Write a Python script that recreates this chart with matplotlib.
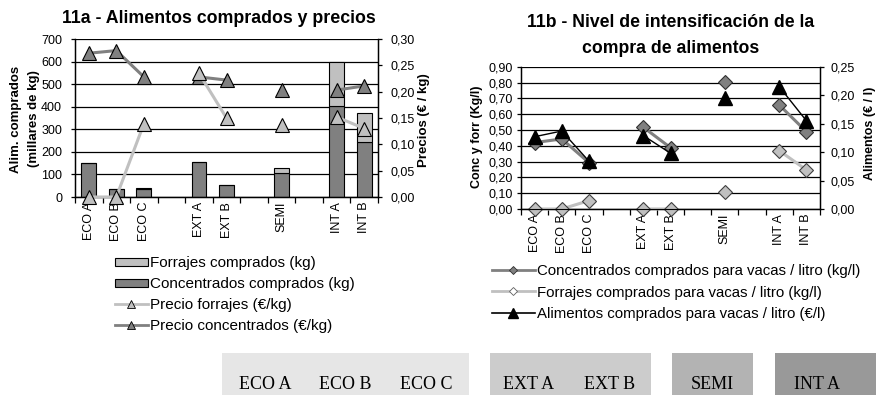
import numpy as np
import matplotlib
matplotlib.use("Agg")
import matplotlib.pyplot as plt
from matplotlib.lines import Line2D
from matplotlib.patches import Patch, Rectangle
from matplotlib.ticker import FuncFormatter, MultipleLocator

nan = np.nan

# Farm types (blank slots separate the groups)
categories = ["ECO A", "ECO B", "ECO C", "", "EXT A", "EXT B", "", "SEMI", "", "INT A", "INT B"]

# 11a - purchased feed (thousand kg) and prices (EUR/kg)
concentrados_kg = [150, 35, 36, nan, 155, 52, nan, 105, nan, 402, 242]
forrajes_kg = [0, 0, 6, nan, 0, 0, nan, 22, nan, 198, 128]
precio_forrajes = [0.000, 0.000, 0.139, nan, 0.235, 0.150, nan, 0.137, nan, 0.152, 0.130]
precio_concentrados = [0.273, 0.278, 0.228, nan, 0.228, 0.222, nan, 0.204, nan, 0.203, 0.211]

# 11b - purchased feed per litre of milk
conc_litro = [0.420, 0.443, 0.293, nan, 0.517, 0.388, nan, 0.806, nan, 0.658, 0.489]
forr_litro = [0.000, 0.000, 0.053, nan, 0.000, 0.000, nan, 0.105, nan, 0.369, 0.247]
alim_litro = [0.127, 0.137, 0.084, nan, 0.129, 0.098, nan, 0.195, nan, 0.215, 0.155]

# Group boxes along the bottom edge
group_boxes = [
    (["ECO A", "ECO B", "ECO C"], "#e6e6e6"),
    (["EXT A", "EXT B"], "#cccccc"),
    (["SEMI"], "#b3b3b3"),
    (["INT A"], "#999999"),
]

plt.rcParams["font.family"] = ["Liberation Sans", "DejaVu Sans"]

W, H = 876, 395
fig = plt.figure(figsize=(W / 100, H / 100), dpi=100)


def fx(px):
    return px / W


def fy(py):
    return 1 - py / H


DARK = "#808080"
LIGHT = "#c0c0c0"
TICK_FS = 9
comma2 = FuncFormatter(lambda v, p: f"{v:.2f}".replace(".", ","))

x = np.arange(len(categories))


def style_category_axis(ax, ypad):
    ax.set_xlim(-0.5, len(categories) - 0.5)
    ax.set_xticks(np.arange(-0.5, len(categories), 1.0))
    ax.set_xticklabels([])
    ax.set_xticks(x, minor=True)
    ax.set_xticklabels(categories, minor=True, rotation=90, fontsize=TICK_FS)
    ax.tick_params(axis="x", which="major", length=4, width=0.9, direction="out")
    ax.tick_params(axis="x", which="minor", length=0, pad=3.5)
    ax.spines["top"].set_visible(False)
    for s in ("left", "right", "bottom"):
        ax.spines[s].set_linewidth(1.0)
    ax.yaxis.grid(True, color="black", linewidth=0.9)
    ax.set_axisbelow(True)
    ax.tick_params(axis="y", labelsize=TICK_FS, length=3, width=0.9, pad=ypad)


def style_right_axis(ax, ypad):
    ax.tick_params(axis="y", labelsize=TICK_FS, length=3, width=0.9, pad=ypad)
    ax.spines["top"].set_visible(False)


def place_ylabel(axis, text, xpos, ypos, size=9):
    axis.set_label_text(text, fontsize=size, fontweight="bold", linespacing=1.6)
    axis.label.set_verticalalignment("center")
    axis.set_label_coords(xpos, ypos)


# ---------------- 11a ----------------
ax1 = fig.add_axes([fx(75), fy(197), fx(378) - fx(75), fy(39) - fy(197)])
style_category_axis(ax1, ypad=6.3)
ax1.set_ylim(0, 700)
ax1.yaxis.set_major_locator(MultipleLocator(100))

conc_arr = np.array(concentrados_kg, dtype=float)
forr_arr = np.array(forrajes_kg, dtype=float)
ok = np.isfinite(conc_arr)
bw = 0.54
ax1.bar(x[ok], conc_arr[ok], width=bw, color=DARK, edgecolor="black", linewidth=0.8, zorder=2)
ax1.bar(x[ok], forr_arr[ok], bottom=conc_arr[ok], width=bw, color=LIGHT,
        edgecolor="black", linewidth=0.8, zorder=2)
place_ylabel(ax1.yaxis, "Alim. comprados\n(millares de kg)", -0.165, 0.494, size=9.5)

ax1r = ax1.twinx()
ax1r.set_ylim(0, 0.30)
ax1r.yaxis.set_major_locator(MultipleLocator(0.05))
ax1r.yaxis.set_major_formatter(comma2)
style_right_axis(ax1r, ypad=6.3)
ax1r.plot(x, precio_concentrados, color=DARK, lw=2.2, marker="^", ms=9.5,
          mfc=DARK, mec="black", mew=0.8, zorder=3, clip_on=False)
ax1r.plot(x, precio_forrajes, color=LIGHT, lw=2.2, marker="^", ms=9.5,
          mfc=LIGHT, mec="black", mew=0.8, zorder=4, clip_on=False)
place_ylabel(ax1r.yaxis, "Precios (€ / kg)", 1.152, 0.487, size=9.5)

fig.text(fx(219), fy(18.5), "11a - Alimentos comprados y precios", ha="center", va="center",
         fontsize=12.8, fontweight="bold")

leg1_handles = [
    Patch(facecolor=LIGHT, edgecolor="black", linewidth=0.8),
    Patch(facecolor=DARK, edgecolor="black", linewidth=0.8),
    Line2D([], [], color=LIGHT, lw=2, marker="^", ms=6, mfc=LIGHT, mec="black", mew=0.6),
    Line2D([], [], color=DARK, lw=2, marker="^", ms=6, mfc=DARK, mec="black", mew=0.6),
]
leg1_labels = ["Forrajes comprados (kg)", "Concentrados comprados (kg)",
               "Precio forrajes (€/kg)", "Precio concentrados (€/kg)"]
fig.legend(leg1_handles, leg1_labels, loc="upper left", bbox_to_anchor=(fx(115), fy(256)),
           bbox_transform=fig.transFigure, frameon=False, fontsize=11, borderpad=0,
           borderaxespad=0, handlelength=2.15, handleheight=0.42, handletextpad=0.15,
           labelspacing=0.46)

# ---------------- 11b ----------------
ax2 = fig.add_axes([fx(521), fy(209), fx(820) - fx(521), fy(66.7) - fy(209)])
style_category_axis(ax2, ypad=3)
ax2.set_ylim(0, 0.90)
ax2.yaxis.set_major_locator(MultipleLocator(0.10))
ax2.yaxis.set_major_formatter(comma2)
ax2.plot(x, forr_litro, color=LIGHT, lw=2.2, marker="D", ms=7,
         mfc=LIGHT, mec="#404040", mew=0.8, zorder=3, clip_on=False)
ax2.plot(x, conc_litro, color=DARK, lw=2.2, marker="D", ms=7,
         mfc=DARK, mec="#303030", mew=0.8, zorder=3, clip_on=False)
place_ylabel(ax2.yaxis, "Conc y forr (Kg/l)", -0.148, 0.509)

ax2r = ax2.twinx()
ax2r.set_ylim(0, 0.25)
ax2r.yaxis.set_major_locator(MultipleLocator(0.05))
ax2r.yaxis.set_major_formatter(comma2)
style_right_axis(ax2r, ypad=4.7)
ax2r.plot(x, alim_litro, color="black", lw=1.0, marker="^", ms=9.5,
          mfc="black", mec="black", zorder=4, clip_on=False)
place_ylabel(ax2r.yaxis, "Alimentos (€ / l)", 1.167, 0.53)

fig.text(fx(670.5), fy(35.5), "11b - Nivel de intensificación de la\ncompra de alimentos",
         ha="center", va="center", fontsize=12.7, fontweight="bold", linespacing=1.72)

leg2_handles = [
    Line2D([], [], color=DARK, lw=2, marker="D", ms=4.5, mfc=DARK, mec="#303030", mew=0.6),
    Line2D([], [], color=LIGHT, lw=2, marker="D", ms=4.5, mfc="white", mec="#606060", mew=0.6),
    Line2D([], [], color="black", lw=1.2, marker="^", ms=6.5, mfc="black", mec="black"),
]
leg2_labels = ["Concentrados comprados para vacas / litro (kg/l)",
               "Forrajes comprados para vacas / litro (kg/l)",
               "Alimentos comprados para vacas / litro (€/l)"]
fig.legend(leg2_handles, leg2_labels, loc="upper left", bbox_to_anchor=(fx(491.7), fy(264)),
           bbox_transform=fig.transFigure, frameon=False, fontsize=10.8, borderpad=0,
           borderaxespad=0, handlelength=2.9, handletextpad=0.1, labelspacing=0.5)

# ---------------- group boxes ----------------
box_spans = [(221.7, 469), (490, 650.7), (672.3, 753.3), (775, 876)]
label_centres = [[265.5, 345, 426], [529, 610], [712.5], [816.5]]
for (labels, colour), (x0, x1), centres in zip(group_boxes, box_spans, label_centres):
    fig.patches.append(Rectangle((fx(x0), 0), fx(x1) - fx(x0), fy(353.3), transform=fig.transFigure,
                                 facecolor=colour, edgecolor="none", zorder=0))
    for lab, cx in zip(labels, centres):
        fig.text(fx(cx), fy(389), lab, ha="center", va="baseline", fontsize=13,
                 family=["Liberation Serif", "DejaVu Serif"])

fig.savefig("out.png", dpi=100)
